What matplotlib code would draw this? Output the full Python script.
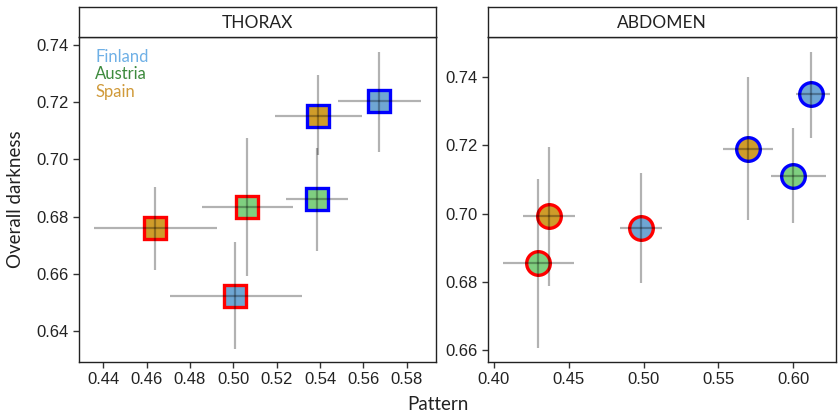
import matplotlib.pyplot as plt
import numpy as np

# group order: Finland, Austria, Spain (red edge) then Finland, Austria, Spain (blue edge)
countries = ['Finland', 'Austria', 'Spain', 'Finland', 'Austria', 'Spain']
edges = ['red', 'red', 'red', 'blue', 'blue', 'blue']

# thorax means with error bar limits
thx_x = [0.5009, 0.5065, 0.4639, 0.5672, 0.5388, 0.5392]
thx_y = [0.6523, 0.6835, 0.6761, 0.7205, 0.6863, 0.7153]
thx_xlo = [0.4708, 0.4857, 0.4358, 0.5485, 0.5243, 0.5192]
thx_xhi = [0.5316, 0.5277, 0.4923, 0.5865, 0.5531, 0.5593]
thx_ylo = [0.6339, 0.6592, 0.6613, 0.7027, 0.6681, 0.7015]
thx_yhi = [0.6710, 0.7074, 0.6905, 0.7377, 0.7039, 0.7295]

# abdomen means with error bar limits
abd_x = [0.4982, 0.4294, 0.4367, 0.6118, 0.5996, 0.5699]
abd_y = [0.6959, 0.6855, 0.6993, 0.7349, 0.7111, 0.7190]
abd_xlo = [0.4842, 0.4062, 0.4196, 0.6018, 0.5848, 0.5532]
abd_xhi = [0.5120, 0.4535, 0.4541, 0.6245, 0.6215, 0.5862]
abd_ylo = [0.6798, 0.6606, 0.6788, 0.7222, 0.6974, 0.6983]
abd_yhi = [0.7118, 0.7103, 0.7196, 0.7474, 0.7252, 0.7399]

fill = {'Finland': '#6fa6d3', 'Austria': '#7fcf80', 'Spain': '#cf9c2a'}
label_col = {'Finland': '#6fb0e6', 'Austria': '#3d8a3d', 'Spain': '#d09a3a'}

tick_font = 'Liberation Sans'
text_font = 'Lato'

fig = plt.figure(figsize=(8.38, 4.16), dpi=100)

ax1 = fig.add_axes([0.0943, 0.1298, 0.4257, 0.782])
ax2 = fig.add_axes([0.5827, 0.1298, 0.4149, 0.782])


def panel(ax, x, y, xlo, xhi, ylo, yhi, marker, ms):
    for i in range(len(x)):
        ax.plot(x[i], y[i], marker=marker, ms=ms, mfc=fill[countries[i]],
                mec=edges[i], mew=2.4, ls='none', zorder=2)
        ax.plot([xlo[i], xhi[i]], [y[i], y[i]], color='black', alpha=0.3,
                lw=1.6, zorder=3, solid_capstyle='butt')
        ax.plot([x[i], x[i]], [ylo[i], yhi[i]], color='black', alpha=0.3,
                lw=1.6, zorder=3, solid_capstyle='butt')
    for s in ax.spines.values():
        s.set_color('#222222')
        s.set_linewidth(1.0)
    ax.tick_params(direction='out', length=4, width=1, color='#333333',
                   labelsize=12, labelcolor='#222222')


def set_ticks(ax, xt, yt):
    ax.set_xticks(xt)
    ax.set_xticklabels(['%.2f' % v for v in xt], fontfamily=tick_font)
    ax.set_yticks(yt)
    ax.set_yticklabels(['%.2f' % v for v in yt], fontfamily=tick_font)


panel(ax1, thx_x, thx_y, thx_xlo, thx_xhi, thx_ylo, thx_yhi, 's', 16.5)
ax1.set_xlim(0.4288, 0.5934)
ax1.set_ylim(0.6292, 0.7429)
set_ticks(ax1, np.arange(0.44, 0.581, 0.02), np.arange(0.64, 0.741, 0.02))

panel(ax2, abd_x, abd_y, abd_xlo, abd_xhi, abd_ylo, abd_yhi, 'o', 17)
ax2.set_xlim(0.3962, 0.6285)
ax2.set_ylim(0.6566, 0.7518)
set_ticks(ax2, np.arange(0.40, 0.601, 0.05), np.arange(0.66, 0.741, 0.02))

# facet strips
for ax, title in [(ax1, 'THORAX'), (ax2, 'ABDOMEN')]:
    pos = ax.get_position()
    strip = fig.add_axes([pos.x0, 0.9118, pos.width, 0.0707])
    strip.set_xticks([])
    strip.set_yticks([])
    for s in strip.spines.values():
        s.set_color('#222222')
        s.set_linewidth(1.0)
    strip.text(0.5, 0.48, title, ha='center', va='center', fontsize=12.5,
               fontfamily=text_font, color='#222222')

# country key in the thorax panel
key_y = [0.937, 0.886, 0.829]
for k, name in enumerate(['Finland', 'Austria', 'Spain']):
    ax1.text(0.045, key_y[k], name, transform=ax1.transAxes,
             color=label_col[name], fontsize=12, fontfamily=text_font, va='center')

fig.text(0.018, 0.52, 'Overall darkness', rotation=90, ha='center', va='center',
         fontsize=13.5, fontfamily=text_font, color='#222222')
fig.text(0.523, 0.027, 'Pattern', ha='center', va='center',
         fontsize=13.5, fontfamily=text_font, color='#222222')

fig.savefig('out.png', dpi=100)
